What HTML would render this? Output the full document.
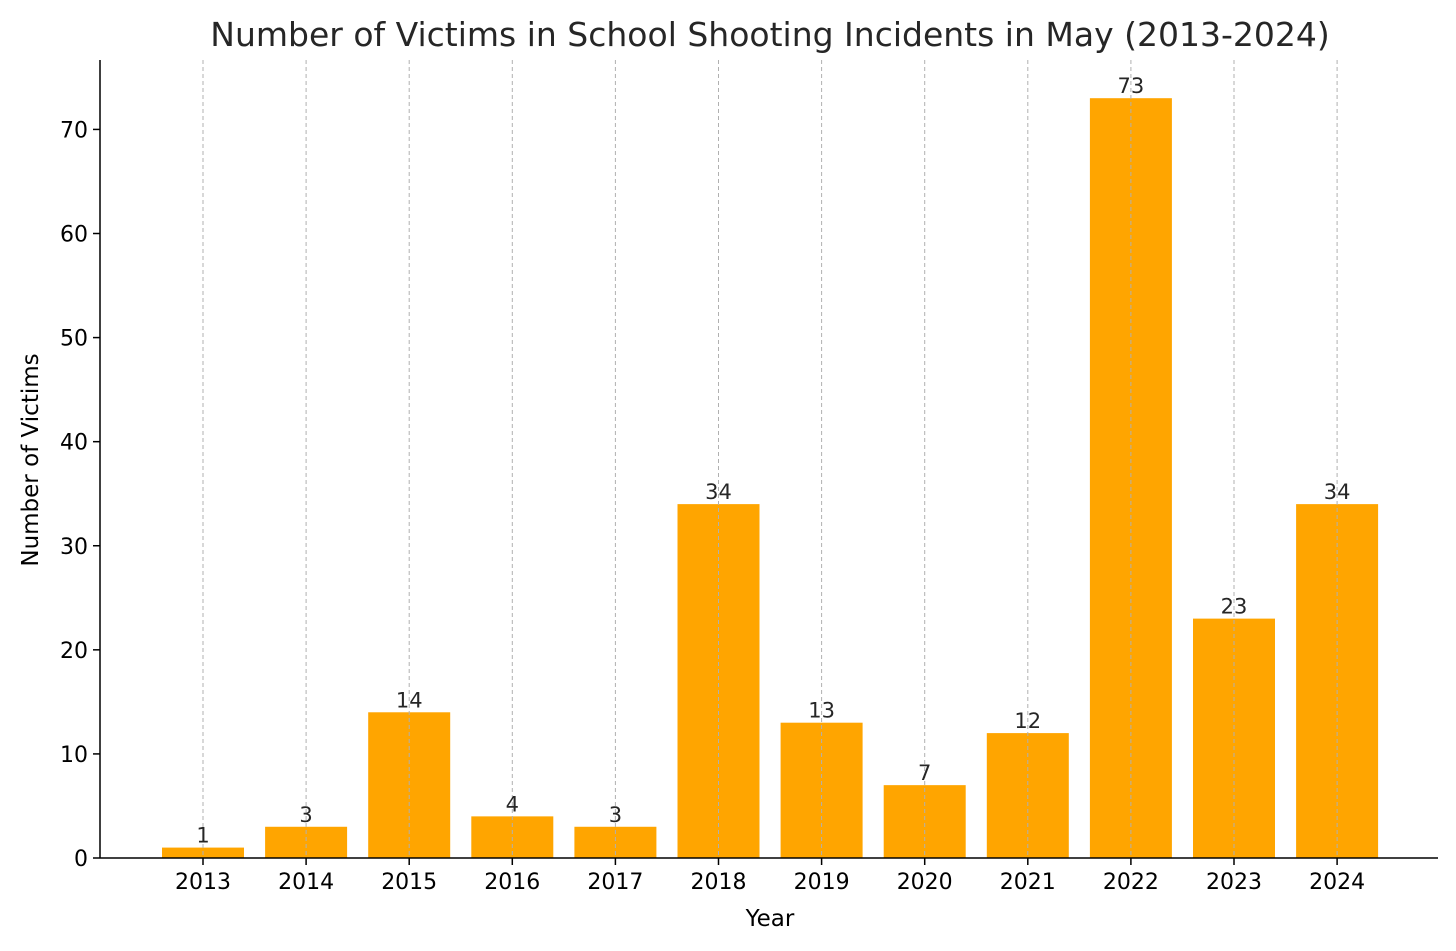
<!DOCTYPE html>
<html><head><meta charset="utf-8"><style>
body{margin:0;background:#fff;}
svg{display:block;font-family:"DejaVu Sans","Liberation Sans",sans-serif;}
</style></head><body>
<svg id="chart" width="1456" height="951" viewBox="0 0 1456 951"></svg>
<script>
const categories=["2013","2014","2015","2016","2017","2018","2019","2020","2021","2022","2023","2024"];
const values=[1,3,14,4,3,34,13,7,12,73,23,34];
const yTicks=[0,10,20,30,40,50,60,70];
const NS="http://www.w3.org/2000/svg";
const svg=document.getElementById('chart');
const L=100,R=1438,B=858,T=60,yMax=76.67;
const y=v=>B-(v/yMax)*(B-T);
const step=103.1,x0=203;
const x=i=>x0+i*step;
const bw=82;
function mk(t,a,txt){const e=document.createElementNS(NS,t);for(const k in a)e.setAttribute(k,a[k]);if(txt!==undefined)e.textContent=txt;svg.appendChild(e);return e;}
let e;
e=mk('text',{x:770,y:46,'text-anchor':'middle','font-size':33,fill:'#262626'},'Number of Victims in School Shooting Incidents in May (2013-2024)');


categories.forEach((c,i)=>{
  e=mk('rect',{x:x(i)-bw/2,y:y(values[i]),width:bw,height:B-y(values[i]),fill:'#FFA500'});
  
  
});
categories.forEach((c,i)=>{
  e=mk('line',{x1:x(i),x2:x(i),y1:T,y2:B,stroke:'#b0b0b0','stroke-width':1,'stroke-dasharray':'4,3'});
  
  
  e=mk('text',{x:x(i),y:y(values[i])-5,'text-anchor':'middle','font-size':21,fill:'#262626'},String(values[i]));
  
  
  e=mk('line',{x1:x(i),x2:x(i),y1:B,y2:B+7,stroke:'#000','stroke-width':1.5});
  
  
  e=mk('text',{x:x(i),y:B+31,'text-anchor':'middle','font-size':22,fill:'#000'},c);
  
  
});
yTicks.forEach(v=>{
  e=mk('line',{x1:L-7,x2:L,y1:y(v),y2:y(v),stroke:'#000','stroke-width':1.5});
  
  
  e=mk('text',{x:L-12,y:y(v)+8,'text-anchor':'end','font-size':22,fill:'#000'},String(v));
  
  
});
e=mk('line',{x1:L,x2:L,y1:T,y2:B,stroke:'#000','stroke-width':1.5});


e=mk('line',{x1:L,x2:R,y1:B,y2:B,stroke:'#000','stroke-width':1.5});


e=mk('text',{x:770,y:926,'text-anchor':'middle','font-size':23,fill:'#000'},'Year');


e=mk('text',{x:38,y:460,'text-anchor':'middle','font-size':23,fill:'#000',transform:'rotate(-90 38 460)'},'Number of Victims');


</script>
</body></html>
